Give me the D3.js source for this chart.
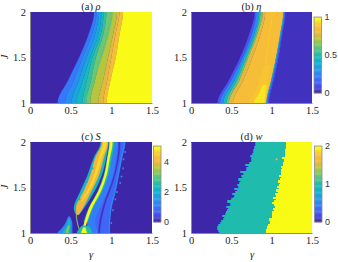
<!DOCTYPE html>
<html lang="en">
<head>
  <meta charset="UTF-8">
  <title>Phase diagrams</title>
  <style>
    html, body { margin: 0; padding: 0; background: #fff; }
    svg { display: block; }
    .tick text { font-family: "Liberation Serif", serif; font-size: 10.5px; fill: #222; }
    .cbar .tick text { font-family: "Liberation Sans", sans-serif; font-size: 9px; fill: #333; }
    .domain { stroke: #8a8a8a; }
    .label { font-family: "Liberation Serif", serif; font-size: 10.5px; fill: #222; }
  </style>
</head>
<body>
<div id="chart"></div>

<script src="https://cdnjs.cloudflare.com/ajax/libs/d3/7.8.5/d3.min.js"></script>
<script>
  // parula colormap stops
  const parula = ["#3e26a8", "#4852f4", "#3578fa", "#2796eb", "#0cb1d2", "#1fbcae",
    "#5cc680", "#a6c93f", "#f2b53c", "#f8c432", "#f9fb15"];

  const gammaTicks = [0, 0.5, 1, 1.5];
  const jTicks = [1, 1.5, 2];
  const jLevels = [1, 1.25, 1.5, 1.75, 2];

  // (a) rho: value of each band, then the gamma where that band starts at each of jLevels
  const rhoValues = [0.2, 0.27, 0.35, 0.45, 0.53, 0.62, 0.72, 0.78, 0.85, 1];
  const rhoEdges = [
    [0.34, 0.47, 0.605, 0.72, 0.79],
    [0.43, 0.54, 0.65, 0.76, 0.82],
    [0.51, 0.60, 0.695, 0.80, 0.85],
    [0.574, 0.65, 0.74, 0.84, 0.88],
    [0.647, 0.70, 0.77, 0.87, 0.905],
    [0.69, 0.75, 0.81, 0.90, 0.94],
    [0.74, 0.80, 0.87, 0.95, 1.0],
    [0.84, 0.90, 0.96, 1.02, 1.07],
    [0.90, 0.95, 1.0, 1.05, 1.10],
    [0.943, 0.99, 1.055, 1.10, 1.145]
  ];
  const rhoStreak = [[1.03, 0.676, 0.69], [1.33, 0.80, 0.815], [1.655, 0.92, 0.935], [2, 1.0, 1.015]];

  // (b) eta
  const etaValues = [0.1, 0.25, 0.45, 0.6, 0.78, 0.85, 0.45, 0.25, 0.1, 0.03];
  const etaEdges = [
    [0.33, 0.47, 0.61, 0.72, 0.79],
    [0.36, 0.50, 0.64, 0.75, 0.81],
    [0.40, 0.54, 0.66, 0.78, 0.84],
    [0.44, 0.57, 0.69, 0.80, 0.86],
    [0.47, 0.60, 0.71, 0.82, 0.89],
    [0.52, 0.65, 0.76, 0.86, 0.92],
    [0.935, 0.995, 1.055, 1.105, 1.145],
    [0.945, 1.005, 1.065, 1.115, 1.155],
    [0.955, 1.015, 1.075, 1.125, 1.165],
    [0.97, 1.03, 1.09, 1.135, 1.175]
  ];
  const etaCore = [[1, 0.72, 0.92], [1.1, 0.78, 0.94], [1.2, 0.83, 0.96], [1.3, 0.86, 0.97], [1.42, 0.92, 0.98]];
  const etaBright = [[1, 0.78, 0.91], [1.1, 0.84, 0.925], [1.2, 0.89, 0.94]];
  const etaStreak = [[1.42, 0.92, 0.93], [1.7, 0.96, 0.972], [2, 1.0, 1.012]];

  // (c) S: stripes painted in order, [value, rows of [J, gamma from, gamma to]]
  const sStripes = [
    // blue fan right of the bright stripe
    [0.75, [[1, 0.75, 0.98], [1.12, 0.70, 0.97], [1.27, 0.77, 1.0], [1.45, 0.87, 1.05], [1.63, 0.94, 1.09], [1.82, 1.0, 1.13], [2, 1.04, 1.17]]],
    [1.05, [[1, 0.75, 0.83], [1.12, 0.70, 0.80], [1.27, 0.77, 0.86], [1.45, 0.87, 0.95], [1.63, 0.94, 1.02], [1.82, 1.0, 1.06], [2, 1.04, 1.085]]],
    [0.15, [[1, 0.84, 0.86], [1.27, 0.89, 0.91], [1.63, 1.03, 1.045], [2, 1.09, 1.11]]],
    [1.3, [[1, 0.965, 0.98], [1.27, 0.985, 1.0], [1.45, 1.035, 1.05], [1.63, 1.075, 1.09], [1.82, 1.115, 1.13], [2, 1.155, 1.17]]],
    // bright stripe and its halo
    [2.4, [[1.12, 0.66, 0.71], [1.27, 0.72, 0.775], [1.45, 0.83, 0.885], [1.63, 0.905, 0.96], [1.82, 0.948, 1.005], [2, 0.975, 1.04]]],
    [5, [[1.05, 0.645, 0.675], [1.12, 0.67, 0.70], [1.27, 0.725, 0.76], [1.45, 0.835, 0.867], [1.63, 0.912, 0.94], [1.82, 0.952, 0.98], [2, 0.98, 1.015]]],
    // main band
    [2.2, [[1.2, 0.565, 0.60], [1.27, 0.54, 0.66], [1.45, 0.615, 0.787], [1.63, 0.705, 0.88], [1.82, 0.78, 0.935], [2, 0.87, 0.965]]],
    [4.0, [[1.2, 0.57, 0.60], [1.27, 0.566, 0.648], [1.45, 0.655, 0.75], [1.63, 0.74, 0.845], [1.82, 0.80, 0.905], [2, 0.885, 0.96]]],
    [4.7, [[1.35, 0.625, 0.645], [1.45, 0.695, 0.72], [1.63, 0.785, 0.815], [1.82, 0.845, 0.88], [2, 0.90, 0.945]]],
    // sliver below the main band
    [3.3, [[1.04, 0.60, 0.61], [1.12, 0.575, 0.585], [1.2, 0.565, 0.575]]],
    // small wedge at the bottom left
    [1.2, [[1, 0.34, 0.52], [1.05, 0.39, 0.52], [1.1, 0.43, 0.52], [1.18, 0.47, 0.49]]],
    [2.3, [[1, 0.40, 0.50], [1.08, 0.45, 0.50], [1.15, 0.47, 0.485]]],
    [3.3, [[1, 0.44, 0.47], [1.08, 0.47, 0.49]]],
    // foot of the bright stripe
    [2.5, [[1, 0.58, 0.76], [1.04, 0.60, 0.75], [1.08, 0.64, 0.72]]],
    [5, [[1, 0.63, 0.70], [1.03, 0.64, 0.69], [1.06, 0.655, 0.68]]]
  ];
  const sSpecks = [[1.04, 1.38, 1.2], [1.06, 1.46, 1.6], [1.1, 1.56, 1.2], [1.115, 1.63, 1.8], [1.135, 1.72, 1.2],
    [1.14, 1.82, 1.6], [1.16, 1.9, 1.4], [1.01, 1.26, 1.4], [0.99, 1.12, 1.2], [0.60, 1.38, 2.2], [0.65, 1.5, 2.0], [0.69, 1.57, 2.2], [0.76, 1.72, 2.0]];

  // (d) w: one entry per row of J, bottom to top
  const wLeft = [0.36, 0.35, 0.34, 0.34, 0.35, 0.37, 0.39, 0.41, 0.42, 0.40,
    0.43, 0.44, 0.46, 0.47, 0.45, 0.50, 0.49, 0.46, 0.51, 0.53,
    0.54, 0.52, 0.56, 0.58, 0.55, 0.60, 0.58, 0.61, 0.62, 0.60,
    0.64, 0.63, 0.66, 0.62, 0.70, 0.70, 0.72, 0.68, 0.73, 0.75,
    0.75, 0.76, 0.74, 0.77, 0.78, 0.78, 0.79, 0.79, 0.80, 0.81];
  const wRight = [0.93, 0.93, 0.94, 0.945, 0.96, 0.98, 0.985, 0.97, 1.0, 1.0,
    1.01, 1.0, 1.03, 1.02, 1.04, 1.03, 1.01, 1.03, 1.05, 1.02,
    1.05, 1.04, 1.08, 1.05, 1.09, 1.07, 1.09, 1.10, 1.08, 1.10,
    1.11, 1.09, 1.11, 1.12, 1.12, 1.13, 1.11, 1.14, 1.14, 1.15,
    1.15, 1.13, 1.17, 1.17, 1.17, 1.17, 1.18, 1.18, 1.18, 1.18];
  const wSpecks = [[0.53, 1.38, 1], [0.45, 1.26, 1], [0.62, 1.6, 1], [0.47, 1.22, 1], [0.60, 1.44, 1], [0.66, 1.68, 1], [1.05, 1.82, 1.6], [0.48, 1.32, 0.5], [0.58, 1.5, 0.5]];

  const piecewise = d3.scaleLinear().domain(d3.range(parula.length).map(i => i / (parula.length - 1))).range(parula);

  const svg = d3.select("#chart").append("svg").attr("width", 338).attr("height", 262);

  const defs = svg.append("defs");
  defs.append("filter").attr("id", "soft").append("feGaussianBlur").attr("stdDeviation", 0.7);
  defs.append("filter").attr("id", "softer").append("feGaussianBlur").attr("stdDeviation", 0.3);

  const layout = {
    a: {x0: 30, x1: 152, y0: 103, y1: 12},
    b: {x0: 191, x1: 312, y0: 103, y1: 12},
    c: {x0: 30, x1: 152, y0: 233, y1: 142},
    d: {x0: 191, x1: 312, y0: 233, y1: 142}
  };

  function makePanel(key, titleLetter, titleSym, filter) {
    const box = layout[key];
    const x = d3.scaleLinear().domain([0, 1.5]).range([box.x0, box.x1]);
    const y = d3.scaleLinear().domain([1, 2]).range([box.y0, box.y1]);
    svg.append("clipPath").attr("id", "clip-" + key).append("rect")
      .attr("x", box.x0).attr("y", box.y1).attr("width", box.x1 - box.x0).attr("height", box.y0 - box.y1);
    const plot = svg.append("g").attr("clip-path", "url(#clip-" + key + ")").append("g");
    if (filter) plot.attr("filter", "url(#" + filter + ")");
    plot.append("rect").attr("x", box.x0 - 6).attr("y", box.y1 - 6)
      .attr("width", box.x1 - box.x0 + 12).attr("height", box.y0 - box.y1 + 12).attr("fill", parula[0]);
    const title = svg.append("text").attr("class", "label").attr("text-anchor", "middle")
      .attr("x", (box.x0 + box.x1) / 2).attr("y", box.y1 - 2.5);
    title.append("tspan").text("(" + titleLetter + ") ");
    title.append("tspan").attr("font-style", "italic").text(titleSym);
    return {box, x, y, plot};
  }

  function addAxes(p) {
    svg.append("g").attr("transform", "translate(0," + p.box.y0 + ")")
      .call(d3.axisBottom(p.x).tickValues(gammaTicks).tickSize(0).tickPadding(4).tickFormat(d3.format("")));
    svg.append("g").attr("transform", "translate(" + p.box.x0 + ",0)")
      .call(d3.axisLeft(p.y).tickValues(jTicks).tickSize(0).tickPadding(4).tickFormat(d3.format("")));
  }

  // carry rows that touch the frame a bit past it so the blur has no dark rim
  function pastFrame(rows) {
    const out = rows.slice();
    if (rows[0][0] === 1) out.unshift([0.95, rows[0][1], rows[0][2]]);
    const last = rows[rows.length - 1];
    if (last[0] === 2) out.push([2.05, last[1], last[2]]);
    return out;
  }

  function drawStripe(p, v, rows, norm) {
    const area = d3.area()
      .y(d => p.y(d[0]))
      .x0(d => p.x(d[1]))
      .x1(d => p.x(d[2]))
      .curve(d3.curveMonotoneY);
    p.plot.append("path").datum(pastFrame(rows)).attr("fill", piecewise(v / norm))
      .attr("stroke", piecewise(v / norm)).attr("stroke-width", 0.2).attr("d", area);
  }

  // bands run from one edge line to the next, the last one out to gamma 1.5
  function drawBands(p, values, edges) {
    values.forEach((v, i) => {
      const right = edges[i + 1] || jLevels.map(() => 1.6);
      drawStripe(p, v, jLevels.map((j, k) => [j, edges[i][k], right[k]]), 1);
    });
  }

  function drawColorbar(box, domain, ticks) {
    const scale = d3.scaleLinear().domain(domain).range([box.y0, box.y1]);
    const g = svg.append("g").attr("class", "cbar");
    const steps = d3.range(64);
    const h = (box.y0 - box.y1) / steps.length;
    g.selectAll("rect").data(steps).enter().append("rect")
      .attr("x", box.x0).attr("width", box.x1 - box.x0)
      .attr("y", d => box.y0 - (d + 1) * h).attr("height", h + 0.3)
      .attr("fill", d => piecewise(d / 63));
    g.append("rect").attr("x", box.x0).attr("y", box.y1)
      .attr("width", box.x1 - box.x0).attr("height", box.y0 - box.y1)
      .attr("fill", "none").attr("stroke", "#8a8a8a").attr("stroke-width", 0.8);
    const ax = svg.append("g").attr("class", "cbar").attr("transform", "translate(" + box.x1 + ",0)")
      .call(d3.axisRight(scale).tickValues(ticks).tickSize(0).tickPadding(3).tickFormat(d3.format("")));
    ax.select(".domain").remove();
  }

  function addLabels() {
    svg.append("text").attr("class", "label").attr("font-style", "italic").attr("text-anchor", "middle")
      .attr("transform", "translate(8,57) rotate(-90)").text("J");
    svg.append("text").attr("class", "label").attr("font-style", "italic").attr("text-anchor", "middle")
      .attr("transform", "translate(8,187) rotate(-90)").text("J");
    svg.append("text").attr("class", "label").attr("font-style", "italic").attr("text-anchor", "middle")
      .attr("x", 91).attr("y", 258).text("γ");
    svg.append("text").attr("class", "label").attr("font-style", "italic").attr("text-anchor", "middle")
      .attr("x", 252).attr("y", 258).text("γ");
  }

  // (a)
  const pa = makePanel("a", "a", "ρ", "soft");
  drawBands(pa, rhoValues, rhoEdges);
  drawStripe(pa, 0.6, rhoStreak, 1);
  addAxes(pa);

  // (b)
  const pb = makePanel("b", "b", "η", "soft");
  drawBands(pb, etaValues, etaEdges);
  drawStripe(pb, 0.9, etaCore, 1);
  drawStripe(pb, 0.96, etaBright, 1);
  drawStripe(pb, 0.91, etaStreak, 1);
  addAxes(pb);
  drawColorbar({x0: 314, x1: 321.5, y0: 93, y1: 17}, [0, 1], [0, 0.5, 1]);

  // (c)
  const pc = makePanel("c", "c", "S", "softer");
  sStripes.forEach(s => drawStripe(pc, s[0], s[1], 5));
  pc.plot.selectAll(".speck").data(sSpecks).enter().append("rect").attr("class", "speck")
    .attr("x", d => pc.x(d[0])).attr("y", d => pc.y(d[1]))
    .attr("width", 1.6).attr("height", 1.8)
    .attr("fill", d => piecewise(d[2] / 5));
  addAxes(pc);
  drawColorbar({x0: 153.5, x1: 161, y0: 222, y1: 146}, [0, 5], [0, 2, 4]);

  // (d)
  const pd = makePanel("d", "d", "w");
  const rowHeight = pd.y(1) - pd.y(1 + 1 / wLeft.length);
  const rowY = i => pd.y(1 + (i + 1) / wLeft.length);
  function drawRows(from, to, c) {
    pd.plot.append("g").attr("shape-rendering", "crispEdges").selectAll("rect")
      .data(wLeft).enter().append("rect")
      .attr("x", (d, i) => pd.x(from(i))).attr("y", (d, i) => rowY(i))
      .attr("width", (d, i) => pd.x(to(i)) - pd.x(from(i))).attr("height", rowHeight + 0.5)
      .attr("fill", c);
  }
  drawRows(i => wLeft[i] - 0.012, i => wRight[i], piecewise(0.22));
  drawRows(i => wLeft[i], i => wRight[i], piecewise(0.5));
  drawRows(i => wRight[i], () => 1.5, piecewise(1));
  pd.plot.selectAll(".speck").data(wSpecks).enter().append("rect").attr("class", "speck")
    .attr("x", d => pd.x(d[0])).attr("y", d => pd.y(d[1]))
    .attr("width", 1.6).attr("height", 1.8)
    .attr("fill", d => piecewise(d[2] / 2));
  addAxes(pd);
  drawColorbar({x0: 314.5, x1: 322, y0: 222, y1: 146}, [0, 2], [0, 1, 2]);

  addLabels();
</script>
</body>
</html>
